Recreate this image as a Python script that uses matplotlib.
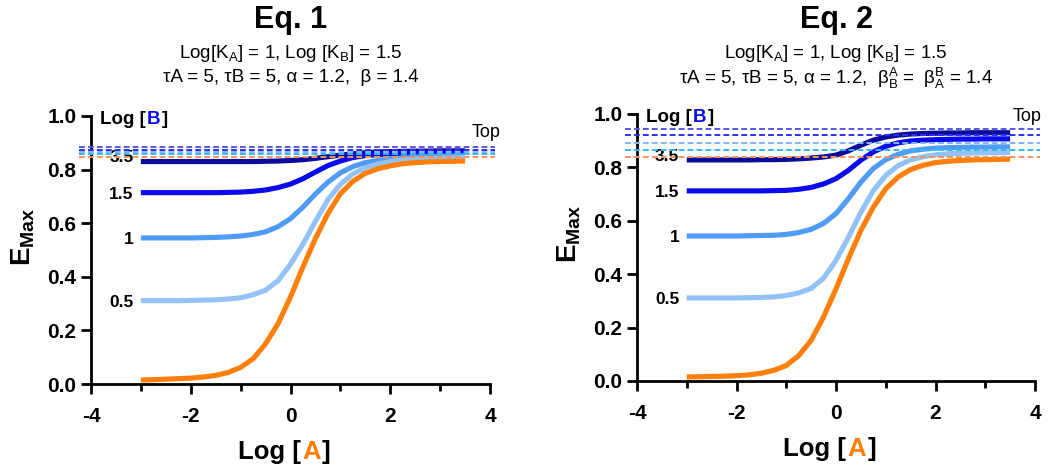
import matplotlib
matplotlib.use("Agg")
import matplotlib.pyplot as plt
from matplotlib.ticker import FormatStrFormatter, MultipleLocator

# Log [A] sample points (same for every curve)
log_a = [-3, -2.75, -2.5, -2.25, -2, -1.75, -1.5, -1.25, -1, -0.75, -0.5, -0.25, 0,
         0.25, 0.5, 0.75, 1, 1.25, 1.5, 1.75, 2, 2.25, 2.5, 2.75, 3, 3.25, 3.5]

# Eq. 1 curves
eq1_b35 = [0.830, 0.830, 0.830, 0.830, 0.830, 0.830, 0.830, 0.830, 0.830, 0.830, 0.831, 0.832, 0.834,
           0.837, 0.842, 0.848, 0.854, 0.859, 0.863, 0.866, 0.867, 0.868, 0.869, 0.869, 0.870, 0.870, 0.870]
eq1_b15 = [0.714, 0.714, 0.714, 0.714, 0.714, 0.714, 0.714, 0.715, 0.716, 0.719, 0.724, 0.733, 0.746,
           0.766, 0.791, 0.815, 0.832, 0.845, 0.852, 0.856, 0.858, 0.860, 0.861, 0.862, 0.863, 0.864, 0.864]
eq1_b1 = [0.545, 0.545, 0.545, 0.545, 0.545, 0.546, 0.547, 0.549, 0.552, 0.558, 0.568, 0.587, 0.617,
          0.660, 0.709, 0.753, 0.788, 0.811, 0.826, 0.834, 0.840, 0.844, 0.847, 0.849, 0.850, 0.851, 0.852]
eq1_b05 = [0.311, 0.311, 0.311, 0.311, 0.312, 0.313, 0.314, 0.317, 0.322, 0.333, 0.350, 0.385, 0.447,
           0.522, 0.607, 0.688, 0.745, 0.784, 0.807, 0.821, 0.830, 0.836, 0.839, 0.841, 0.843, 0.844, 0.845]
eq1_a = [0.015, 0.016, 0.018, 0.020, 0.022, 0.026, 0.032, 0.043, 0.062, 0.094, 0.150, 0.225, 0.325,
         0.437, 0.543, 0.636, 0.710, 0.756, 0.786, 0.803, 0.814, 0.822, 0.826, 0.829, 0.830, 0.831, 0.832]
eq1_tops = [0.883, 0.873, 0.865, 0.857, 0.846]

# Eq. 2 curves
eq2_b35 = [0.828, 0.828, 0.828, 0.828, 0.828, 0.828, 0.829, 0.829, 0.830, 0.832, 0.835, 0.839, 0.846,
           0.862, 0.883, 0.902, 0.914, 0.921, 0.925, 0.927, 0.928, 0.929, 0.929, 0.930, 0.930, 0.930, 0.930]
eq2_b15 = [0.712, 0.712, 0.712, 0.712, 0.712, 0.712, 0.712, 0.713, 0.714, 0.718, 0.725, 0.738, 0.758,
           0.789, 0.827, 0.858, 0.879, 0.892, 0.899, 0.902, 0.904, 0.905, 0.906, 0.906, 0.907, 0.907, 0.907]
eq2_b1 = [0.543, 0.543, 0.543, 0.543, 0.543, 0.544, 0.545, 0.546, 0.549, 0.556, 0.568, 0.590, 0.627,
          0.683, 0.745, 0.796, 0.829, 0.849, 0.862, 0.868, 0.872, 0.874, 0.875, 0.876, 0.876, 0.877, 0.877]
eq2_b05 = [0.311, 0.311, 0.311, 0.311, 0.311, 0.312, 0.313, 0.315, 0.320, 0.330, 0.347, 0.385, 0.452,
           0.538, 0.632, 0.713, 0.770, 0.807, 0.828, 0.840, 0.847, 0.851, 0.853, 0.854, 0.855, 0.855, 0.856]
eq2_a = [0.015, 0.016, 0.017, 0.018, 0.020, 0.023, 0.029, 0.040, 0.058, 0.095, 0.152, 0.240, 0.345,
         0.458, 0.564, 0.651, 0.720, 0.764, 0.792, 0.808, 0.818, 0.823, 0.826, 0.828, 0.829, 0.830, 0.831]
eq2_tops = [0.944, 0.921, 0.891, 0.865, 0.839]

b_labels = ["3.5", "1.5", "1", "0.5", None]
curve_colors = ["#0b0b9c", "#0a0aec", "#4f9cf6", "#93c2f7", "#ff7f0a"]
top_colors = ["#5a5ad8", "#2e2ef2", "#82b6f4", "#35b8f0", "#f5935c"]

plt.rcParams["font.family"] = ["Liberation Sans", "DejaVu Sans"]
plt.rcParams["mathtext.fontset"] = "custom"
plt.rcParams["mathtext.rm"] = "Liberation Sans"
plt.rcParams["mathtext.it"] = "Liberation Sans:italic"
plt.rcParams["mathtext.bf"] = "Liberation Sans:bold"
plt.rcParams["axes.unicode_minus"] = False


def colored_text(ax, pieces, xy, xycoords, offset, ha, size):
    # draw a row of differently coloured strings sharing one baseline
    first_txt, first_col = pieces[0]
    t = ax.annotate(first_txt, xy=xy, xycoords=xycoords, xytext=offset,
                    textcoords="offset points", ha=ha, va="baseline",
                    fontsize=size, fontweight="bold", color=first_col,
                    annotation_clip=False)
    for txt, col in pieces[1:]:
        t = ax.annotate(txt, xy=(1, 0), xycoords=t, xytext=(1, 0),
                        textcoords="offset points", ha="left", va="bottom",
                        fontsize=size, fontweight="bold", color=col)


def draw_panel(ax, curves, tops, title, line1, line2, top_xy, title_y):
    for ys, col in zip(curves, curve_colors):
        ax.plot(log_a, ys, color=col, lw=3.7, solid_capstyle="butt",
                solid_joinstyle="round", zorder=3)
    for y, col in zip(tops, top_colors):
        ax.plot([-4.25, 4.1], [y, y], color=col, lw=1.4,
                linestyle=(0, (3, 1.6)), clip_on=False, zorder=4)

    for lab, ys in zip(b_labels, curves):
        if lab is None:
            continue
        dy = 0.014 if lab == "3.5" else -0.006
        ax.text(-3.15, ys[0] + dy, lab, ha="right", va="center",
                fontsize=12.5, fontweight="bold", zorder=2)

    ax.text(top_xy[0], top_xy[1], "Top", ha="left", va="center", fontsize=13)

    ax.set_xlim(-4, 4)
    ax.set_ylim(0, 1.0)
    ax.xaxis.set_major_locator(MultipleLocator(2))
    ax.xaxis.set_minor_locator(MultipleLocator(1))
    ax.yaxis.set_major_locator(MultipleLocator(0.2))
    ax.yaxis.set_major_formatter(FormatStrFormatter("%.1f"))
    for side in ["top", "right"]:
        ax.spines[side].set_visible(False)
    for side in ["left", "bottom"]:
        ax.spines[side].set_linewidth(2)
    ax.tick_params(which="major", length=7.5, width=2, labelsize=15)
    ax.tick_params(axis="x", which="major", pad=9)
    ax.tick_params(axis="y", which="major", pad=3)
    ax.tick_params(axis="x", which="minor", length=5, width=2)
    for lbl in ax.get_xticklabels() + ax.get_yticklabels():
        lbl.set_fontweight("bold")

    ax.set_ylabel(r"$\mathbf{E_{Max}}$", fontsize=20)
    ax.yaxis.set_label_coords(-0.135, 0.55)

    colored_text(ax, [("Log [", "black"), ("A", "#ff7f0a"), ("]", "black")],
                 (0.2, 0), ("data", "axes fraction"), (0, -54), "right", 18.5)
    colored_text(ax, [("Log [", "black"), ("B", "#0a0aec"), ("]", "black")],
                 (-3.82, 0.97), "data", (0, 0), "left", 13.5)

    ax.text(0.5, title_y[0], title, transform=ax.transAxes, ha="center",
            va="center", fontsize=22, fontweight="bold")
    ax.text(0.5, title_y[1], line1, transform=ax.transAxes, ha="center",
            va="center", fontsize=13.5)
    ax.text(0.5, title_y[2], line2, transform=ax.transAxes, ha="center",
            va="center", fontsize=13.5)


fig = plt.figure(figsize=(10.5, 4.72), dpi=100)
ax1 = fig.add_axes([91 / 1050, 88 / 472, 399 / 1050, 268 / 472])
ax2 = fig.add_axes([637 / 1050, 91 / 472, 398 / 1050, 267 / 472])

k_line = r"Log[K$_\mathregular{A}$] = 1, Log [K$_\mathregular{B}$] = 1.5"

draw_panel(ax1, [eq1_b35, eq1_b15, eq1_b1, eq1_b05, eq1_a], eq1_tops,
           "Eq. 1", k_line,
           "τA = 5, τB = 5, α = 1.2,  β = 1.4",
           (3.64, 0.937), (1.358, 1.235, 1.142))
draw_panel(ax2, [eq2_b35, eq2_b15, eq2_b1, eq2_b05, eq2_a], eq2_tops,
           "Eq. 2", k_line,
           r"τA = 5, τB = 5, α = 1.2,  β$^\mathregular{A}_\mathregular{B}$ =  β$^\mathregular{B}_\mathregular{A}$ = 1.4",
           (3.56, 0.989), (1.352, 1.228, 1.135))

fig.savefig("out.png", dpi=100)
